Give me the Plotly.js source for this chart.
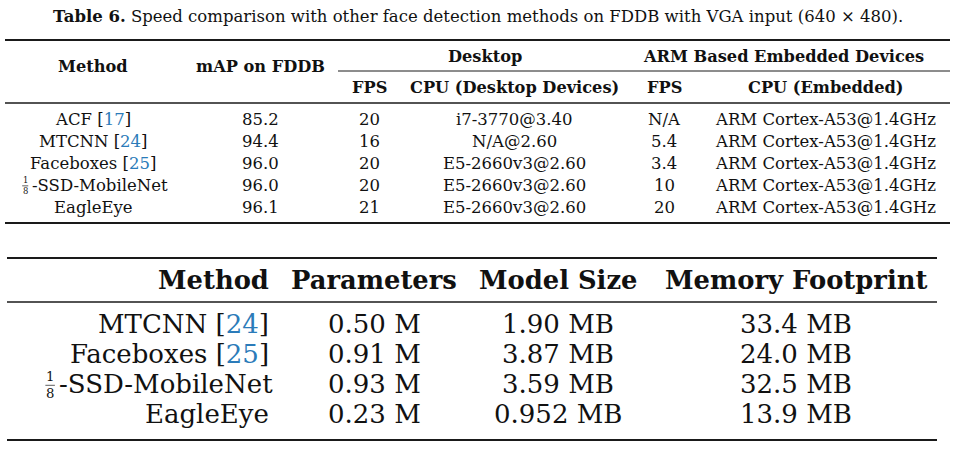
<!DOCTYPE html>
<html><head><meta charset="utf-8">
<script src="https://cdn.plot.ly/plotly-3.0.1.min.js"></script>
<style>html,body{margin:0;padding:0;background:#fff;overflow:hidden}#chart{width:955px;height:449px}</style>
</head><body><div id="chart"></div>
<script>
// ---------------- DATA ----------------
const captionBold = 'Table 6.';
const captionText = 'Speed comparison with other face detection methods on FDDB with VGA input (640 × 480).';

// Table 1 (speed)
const t1GroupHeaders = ['Desktop', 'ARM Based Embedded Devices'];
const t1Headers = ['Method', 'mAP on FDDB', 'FPS', 'CPU (Desktop Devices)', 'FPS', 'CPU (Embedded)'];
const t1Methods = ['ACF', 'MTCNN', 'Faceboxes', '1/8-SSD-MobileNet', 'EagleEye'];
const t1Refs = ['17', '24', '25', '', ''];
const t1mAP = ['85.2', '94.4', '96.0', '96.0', '96.1'];
const t1DesktopFPS = ['20', '16', '20', '20', '21'];
const t1DesktopCPU = ['i7-3770@3.40', 'N/A@2.60', 'E5-2660v3@2.60', 'E5-2660v3@2.60', 'E5-2660v3@2.60'];
const t1ArmFPS = ['N/A', '5.4', '3.4', '10', '20'];
const t1ArmCPU = ['ARM Cortex-A53@1.4GHz', 'ARM Cortex-A53@1.4GHz', 'ARM Cortex-A53@1.4GHz', 'ARM Cortex-A53@1.4GHz', 'ARM Cortex-A53@1.4GHz'];

// Table 2 (size)
const t2Headers = ['Method', 'Parameters', 'Model Size', 'Memory Footprint'];
const t2Methods = ['MTCNN', 'Faceboxes', '1/8-SSD-MobileNet', 'EagleEye'];
const t2Refs = ['24', '25', '', ''];
const t2Params = ['0.50 M', '0.91 M', '0.93 M', '0.23 M'];
const t2ModelSize = ['1.90 MB', '3.87 MB', '3.59 MB', '0.952 MB'];
const t2Memory = ['33.4 MB', '24.0 MB', '32.5 MB', '13.9 MB'];

// ---------------- LAYOUT (positions / styles) ----------------
const FONT = 'DejaVu Serif';
const INK = '#111111';
const REF = '#2b7bb9';
const W = 955, H = 449;

const L1 = {
  captionX: 478, captionY: 16, captionSize: 16.5,
  topRule: 40, groupY: 56, cmidY: 71, cmidX0: 338, cmidX1: 950,
  subY: 87, methodHeadY: 66, midRule: 103, bottomRule: 223,
  ruleX0: 5, ruleX1: 950,
  rowY0: 119, rowStep: 22,
  colX: [93, 260, 369, 514, 664, 825],
  groupX: [485, 783],
  headSize: 16.2, bodySize: 16.5
};
const L2 = {
  topRule: 258, headY: 280, midRule: 302, bottomRule: 440,
  ruleX0: 7, ruleX1: 937,
  rowY0: 324, rowStep: 30,
  methodRight: 271, colX: [374, 558, 796],
  headSize: 25.8, bodySize: 26
};

// ---------------- helpers ----------------
const canvas = document.createElement('canvas');
const ctx = canvas.getContext('2d');
function measure(txt, size, bold) {
  ctx.font = (bold ? 'bold ' : '') + size + 'px "' + FONT + '"';
  return ctx.measureText(txt.replace(/<[^>]+>/g, '')).width;
}
const annotations = [];
const shapes = [];
function txt(x, y, text, size, opts) {
  opts = opts || {};
  annotations.push({
    xref: 'x', yref: 'y', x: x, y: y, text: opts.bold ? '<b>' + text + '</b>' : text,
    showarrow: false, xanchor: opts.anchor || 'center', yanchor: 'middle',
    borderpad: opts.pad === undefined ? 1 : opts.pad,
    font: {family: FONT, size: size, color: INK}
  });
}
function rule(x0, x1, y, w) {
  shapes.push({type: 'line', xref: 'x', yref: 'y', x0: x0, x1: x1, y0: y, y1: y,
    line: {color: '#1a1a1a', width: w}});
}
function refText(name, ref) {
  return ref ? name + ' [<span style="color:' + REF + '">' + ref + '</span>]' : name;
}
// method cell; handles the "1/8-" fraction prefix (stacked numerator / denominator)
function methodCell(name, ref, x, y, size, align) {
  const m = name.match(/^(\d+)\/(\d+)(.*)$/);
  if (!m) { txt(x, y, refText(name, ref), size, {anchor: align}); return; }
  const rest = refText(m[3], ref);
  const w = measure(rest, size, false);
  const fracW = size * 0.56;
  let left;
  if (align === 'right') left = x - w - fracW; else left = x - (w + fracW) / 2;
  const fc = left + fracW / 2;
  const small = size * 0.51;
  txt(fc, y + size * 0.05, m[1] + '<br>' + m[2], small, {pad: 0});
  rule(fc - small * 0.36, fc + small * 0.36, y + size * 0.05, 0.7);
  txt(left + fracW, y, rest, size, {anchor: 'left'});
}

// ---------------- Table 1 ----------------
txt(L1.captionX, L1.captionY, '<b>' + captionBold + '</b> ' + captionText, L1.captionSize);
rule(L1.ruleX0, L1.ruleX1, L1.topRule, 2);
txt(L1.colX[0], L1.methodHeadY, t1Headers[0], L1.headSize, {bold: true});
txt(L1.colX[1], L1.methodHeadY, t1Headers[1], L1.headSize, {bold: true});
txt(L1.groupX[0], L1.groupY, t1GroupHeaders[0], L1.headSize, {bold: true});
txt(L1.groupX[1], L1.groupY, t1GroupHeaders[1], L1.headSize, {bold: true});
rule(L1.cmidX0, L1.cmidX1, L1.cmidY, 1);
for (let c = 2; c < 6; c++) txt(L1.colX[c], L1.subY, t1Headers[c], L1.headSize, {bold: true});
rule(L1.ruleX0, L1.ruleX1, L1.midRule, 1.3);
const t1Cols = [t1mAP, t1DesktopFPS, t1DesktopCPU, t1ArmFPS, t1ArmCPU];
t1Methods.forEach((name, i) => {
  const y = L1.rowY0 + i * L1.rowStep;
  methodCell(name, t1Refs[i], L1.colX[0], y, L1.bodySize, 'center');
  t1Cols.forEach((col, c) => txt(L1.colX[c + 1], y, col[i], L1.bodySize));
});
rule(L1.ruleX0, L1.ruleX1, L1.bottomRule, 2);

// ---------------- Table 2 ----------------
rule(L2.ruleX0, L2.ruleX1, L2.topRule, 2);
txt(L2.methodRight, L2.headY, t2Headers[0], L2.headSize, {bold: true, anchor: 'right'});
for (let c = 1; c < 4; c++) txt(L2.colX[c - 1], L2.headY, t2Headers[c], L2.headSize, {bold: true});
rule(L2.ruleX0, L2.ruleX1, L2.midRule, 1.3);
const t2Cols = [t2Params, t2ModelSize, t2Memory];
t2Methods.forEach((name, i) => {
  const y = L2.rowY0 + i * L2.rowStep;
  methodCell(name, t2Refs[i], L2.methodRight, y, L2.bodySize, 'right');
  t2Cols.forEach((col, c) => txt(L2.colX[c], y, col[i], L2.bodySize));
});
rule(L2.ruleX0, L2.ruleX1, L2.bottomRule, 2);

Plotly.newPlot('chart', [{x: [], y: [], type: 'scatter', mode: 'markers', hoverinfo: 'skip', showlegend: false}], {
  width: W, height: H,
  margin: {l: 0, r: 0, t: 0, b: 0, pad: 0},
  paper_bgcolor: '#ffffff', plot_bgcolor: '#ffffff',
  xaxis: {range: [0, W], visible: false, fixedrange: true},
  yaxis: {range: [H, 0], visible: false, fixedrange: true},
  showlegend: false,
  annotations: annotations,
  shapes: shapes
}, {staticPlot: true, displayModeBar: false});
</script>
</body></html>
